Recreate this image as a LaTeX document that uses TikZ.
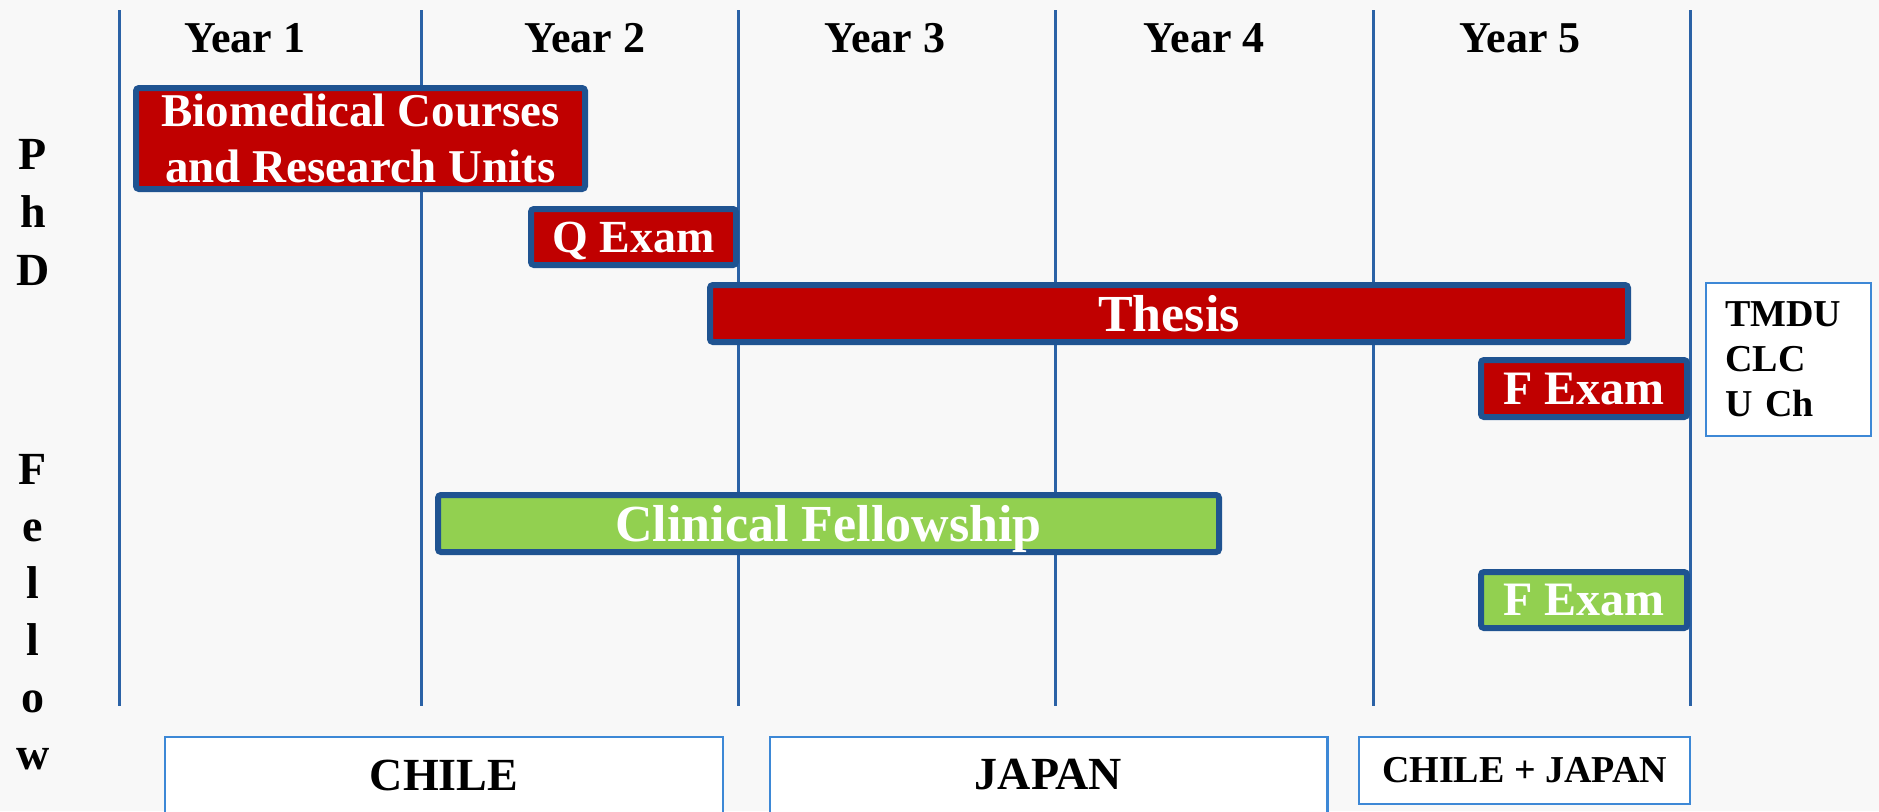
\documentclass[tikz,border=0pt]{standalone}
\usepackage{fontspec}
\setmainfont{Liberation Serif}
\definecolor{barred}{HTML}{C00000}
\definecolor{bargreen}{HTML}{92D050}
\definecolor{barrim}{HTML}{1F5391}
\definecolor{yearline}{HTML}{2B62A6}
\definecolor{placerim}{HTML}{3D88D6}
\definecolor{paper}{HTML}{F8F8F8}
\begin{document}
\begin{tikzpicture}[x=0.5pt,y=-0.5pt,
    bar/.style={draw=barrim,line width=3pt,rounded corners=1.5pt,text=white,inner sep=0pt,align=center,font=\bfseries\fontsize{23.5}{28}\selectfont},
    redbar/.style={bar,fill=barred},
    greenbar/.style={bar,fill=bargreen},
    flat/.style={text depth=0pt},
    place/.style={draw=placerim,line width=1.2pt,fill=white,inner sep=0pt,font=\bfseries\fontsize{23}{28}\selectfont},
    yearlabel/.style={anchor=base,font=\bfseries\fontsize{22}{26}\selectfont},
    sideletter/.style={anchor=base,font=\bfseries\fontsize{23}{26}\selectfont}]
    \useasboundingbox (0,0) rectangle (1879,811);
    \clip (0,0) rectangle (1879,811);
    \fill[paper] (0,0) rectangle (1879,811);
    % year columns
    \foreach \x in {119,421,738,1055,1373,1690} {
        \draw[yearline,line width=1.5pt] (\x,10) -- (\x,706);
    }
    \foreach \x/\n in {245/1,585/2,885/3,1204/4,1520/5} {
        \node[yearlabel] (year\n) at (\x,52) {Year \n};
    }
    % side labels
    \foreach \y/\c [count=\i] in {169/P,227/h,285/D} {
        \node[sideletter] (phd\i) at (33,\y) {\c};
    }
    \foreach \y/\c [count=\i] in {484/F,541/e,598/l,655/l,712/o,769/w} {
        \node[sideletter] (fellow\i) at (33,\y) {\c};
    }
    % PhD track
    \node[redbar,minimum width=224.5pt,minimum height=50.5pt] (courses) at (360.5,138.5) {Biomedical Courses\\and Research Units};
    \node[redbar,flat,minimum width=102.5pt,minimum height=28pt,font=\bfseries\fontsize{23}{28}\selectfont] (qexam) at (633.5,237) {Q Exam};
    \node[redbar,flat,minimum width=459pt,minimum height=28.5pt,font=\bfseries\fontsize{26}{30}\selectfont] (thesis) at (1169,313.5) {Thesis};
    \node[redbar,flat,minimum width=103pt,minimum height=28.5pt,font=\bfseries\fontsize{24}{28}\selectfont] (fexamphd) at (1584,388.5) {F Exam};
    % fellowship track
    \node[greenbar,flat,minimum width=390.5pt,minimum height=28.5pt,font=\bfseries\fontsize{26}{30}\selectfont] (fellowship) at (828.5,523.5) {Clinical Fellowship};
    \node[greenbar,flat,minimum width=103pt,minimum height=28pt,font=\bfseries\fontsize{24}{28}\selectfont] (fexamfellow) at (1584,600) {F Exam};
    % institutions
    \node[place,minimum width=82.3pt,minimum height=76.3pt,align=left,inner xsep=9.5pt,text width=63.3pt,font=\bfseries\fontsize{19}{22.5}\selectfont] (institutes) at (1788.5,359.5) {TMDU\\CLC\\U Ch};
    % countries
    \node[place,minimum width=278.8pt,minimum height=37.8pt] (chile) at (444,775) {CHILE};
    \node[place,minimum width=278.8pt,minimum height=37.8pt] (japan) at (1048.5,775) {JAPAN};
    \node[place,minimum width=165.3pt,minimum height=33.3pt,font=\bfseries\fontsize{19}{22}\selectfont] (both) at (1524.5,770.5) {CHILE + JAPAN};
\end{tikzpicture}
\end{document}
